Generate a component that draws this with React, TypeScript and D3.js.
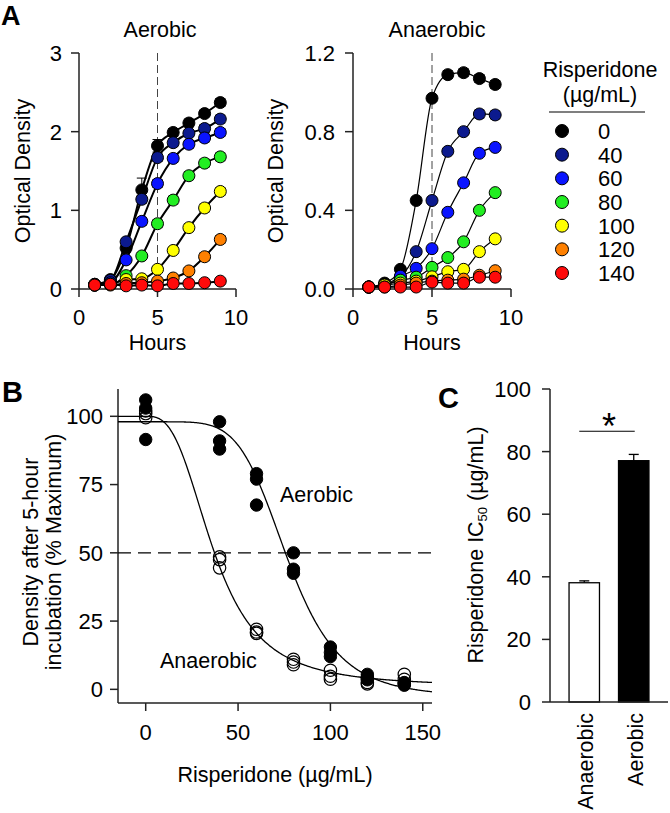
import React from 'react';
import * as d3 from 'd3';

const FONT = "'Liberation Sans', Arial, Helvetica, sans-serif";

// ---------- Panel A data ----------
const hours = [1, 2, 3, 4, 5, 6, 7, 8, 9];
const concentrations = ['0', '40', '60', '80', '100', '120', '140'];
const concColors = ['#000000', '#0c1a8e', '#0a14ff', '#22ee22', '#ffff00', '#ff8000', '#ff0a0a'];

const aerobic0 = [0.06, 0.12, 0.52, 1.26, 1.82, 1.99, 2.11, 2.23, 2.37];
const aerobic40 = [0.06, 0.11, 0.6, 1.14, 1.67, 1.86, 1.98, 2.04, 2.16];
const aerobic60 = [0.05, 0.08, 0.37, 0.86, 1.34, 1.66, 1.84, 1.92, 1.99];
const aerobic80 = [0.05, 0.06, 0.17, 0.42, 0.83, 1.13, 1.44, 1.6, 1.68];
const aerobic100 = [0.05, 0.06, 0.12, 0.13, 0.25, 0.49, 0.78, 1.03, 1.24];
const aerobic120 = [0.05, 0.05, 0.07, 0.08, 0.1, 0.14, 0.23, 0.41, 0.63];
const aerobic140 = [0.05, 0.06, 0.04, 0.05, 0.04, 0.07, 0.07, 0.08, 0.1];

const aerobic0Err = [0.01, 0.02, 0.05, 0.15, 0.08, 0.05, 0.05, 0.04, 0.05];
const aerobic40Err = [0.01, 0.02, 0.04, 0.05, 0.05, 0.05, 0.04, 0.05, 0.05];
const aerobic60Err = [0.01, 0.02, 0.03, 0.05, 0.05, 0.05, 0.05, 0.05, 0.05];
const aerobic80Err = [0.01, 0.01, 0.03, 0.04, 0.05, 0.05, 0.05, 0.05, 0.05];
const aerobic100Err = [0.01, 0.01, 0.02, 0.02, 0.03, 0.04, 0.05, 0.05, 0.05];
const aerobic120Err = [0.01, 0.01, 0.01, 0.02, 0.02, 0.03, 0.04, 0.05, 0.05];
const aerobic140Err = [0.01, 0.01, 0.01, 0.01, 0.01, 0.02, 0.02, 0.02, 0.03];

const anaerobic0 = [0.01, 0.03, 0.1, 0.45, 0.97, 1.09, 1.1, 1.07, 1.04];
const anaerobic40 = [0.01, 0.02, 0.06, 0.19, 0.45, 0.7, 0.8, 0.89, 0.885];
const anaerobic60 = [0.01, 0.02, 0.065, 0.105, 0.205, 0.39, 0.54, 0.69, 0.72];
const anaerobic80 = [0.01, 0.02, 0.045, 0.06, 0.11, 0.16, 0.24, 0.4, 0.49];
const anaerobic100 = [0.01, 0.02, 0.03, 0.04, 0.062, 0.088, 0.1, 0.19, 0.255];
const anaerobic120 = [0.01, 0.01, 0.02, 0.03, 0.04, 0.045, 0.05, 0.07, 0.093];
const anaerobic140 = [0.01, 0.01, 0.01, 0.01, 0.035, 0.03, 0.03, 0.06, 0.06];

const anaerobic0Err = [0.005, 0.005, 0.01, 0.015, 0.015, 0.02, 0.02, 0.02, 0.02];
const anaerobic40Err = [0.005, 0.005, 0.01, 0.01, 0.015, 0.015, 0.015, 0.02, 0.02];
const anaerobic60Err = [0.005, 0.005, 0.01, 0.01, 0.01, 0.015, 0.015, 0.015, 0.015];
const anaerobic80Err = [0.005, 0.005, 0.005, 0.01, 0.01, 0.01, 0.01, 0.015, 0.015];
const anaerobic100Err = [0.005, 0.005, 0.005, 0.005, 0.01, 0.01, 0.01, 0.01, 0.015];
const anaerobic120Err = [0.005, 0.005, 0.005, 0.005, 0.005, 0.005, 0.01, 0.01, 0.015];
const anaerobic140Err = [0.005, 0.005, 0.005, 0.005, 0.005, 0.005, 0.005, 0.01, 0.01];

const aerobicTicks = [0, 1, 2, 3];
const anaerobicTicks = [0, 0.4, 0.8, 1.2];
const hourTicks = [0, 5, 10];

// ---------- Panel B data ----------
const doses = [0, 40, 60, 80, 100, 120, 140];
const aerobicPct = [[106, 103, 91.5], [98, 91, 88], [79, 77, 67.5], [50, 44, 42.5], [15.5, 13.5, 12], [5.5, 4.5, 3.5], [1.5, 2, 2.5]];
const anaerobicPct = [[102, 101, 99.5], [48.5, 47.5, 44.5], [22, 21, 20.5], [11, 10, 9], [7, 4.8, 3.7], [4, 2.5, 2], [5.5, 3.7, 2.2]];
// fitted four-parameter logistic: top, bottom, IC50, Hill slope
const aerobicFit = [98, -3, 77, 5.5];
const anaerobicFit = [100, 1, 37, 2.9];
const doseTicks = [0, 50, 100, 150];
const pctTicks = [0, 25, 50, 75, 100];

// ---------- Panel C data ----------
const conditions = ['Anaerobic', 'Aerobic'];
const ic50Means = [38.1, 77.1];
const ic50Errs = [0.6, 2.0];
const ic50Fills = ['#ffffff', '#000000'];
const ic50Ticks = [0, 20, 40, 60, 80, 100];

const AX = '#222';
const TICK_FS = 22;
const LABEL_FS = 21.5;

function logistic(p: number[], x: number) {
  const [top, bottom, ic50, hill] = p;
  if (x <= 0) return top;
  return bottom + (top - bottom) / (1 + Math.pow(x / ic50, hill));
}

function GrowthPanel(props: any) {
  const { xRange, yMax, yTicks, yFmt, series, errs, title, titleX, yLabelX, labelGap, lineWidth } = props;
  const x = d3.scaleLinear().domain([0, 10]).range(xRange);
  const y = d3.scaleLinear().domain([0, yMax]).range([289, 53]);
  const line = d3.line<number>().x((_, i) => x(hours[i])).y((d) => y(d)).curve(d3.curveMonotoneX);
  const x0 = xRange[0];
  return (
    <g fontFamily={FONT}>
      <text x={titleX} y={37} fontSize={LABEL_FS} textAnchor="middle">{title}</text>
      {/* dashed 5-hour line */}
      <line x1={x(5)} x2={x(5)} y1={y(yMax)} y2={y(0)} stroke="#444" strokeWidth={1} strokeDasharray="8,4" />
      {/* axes */}
      <line x1={x0} x2={x0} y1={y(yMax)} y2={y(0)} stroke={AX} strokeWidth={1.5} />
      <line x1={x0} x2={xRange[1]} y1={y(0)} y2={y(0)} stroke={AX} strokeWidth={1.5} />
      {yTicks.map((t: number) => (
        <g key={'y' + t}>
          <line x1={x0 - 8} x2={x0} y1={y(t)} y2={y(t)} stroke={AX} strokeWidth={1.5} />
          <text x={x0 - 8 - labelGap} y={y(t)} dy="0.36em" fontSize={TICK_FS} textAnchor="end">{yFmt(t)}</text>
        </g>
      ))}
      {hourTicks.map((t) => (
        <g key={'x' + t}>
          <line x1={x(t)} x2={x(t)} y1={y(0)} y2={y(0) + 8} stroke={AX} strokeWidth={1.5} />
          <text x={x(t)} y={y(0) + 36} fontSize={TICK_FS} textAnchor="middle">{t}</text>
        </g>
      ))}
      <text x={(xRange[0] + xRange[1]) / 2} y={350} fontSize={LABEL_FS} textAnchor="middle">Hours</text>
      <text transform={`translate(${yLabelX},171) rotate(-90)`} fontSize={LABEL_FS} textAnchor="middle">Optical Density</text>
      {/* lines */}
      {series.map((s: number[], k: number) => (
        <path key={'l' + k} d={line(s) || ''} fill="none" stroke="#000" strokeWidth={lineWidth} />
      ))}
      {/* error bars + points */}
      {series.map((s: number[], k: number) => (
        <g key={'p' + k}>
          {s.map((v, i) => {
            const e = errs[k][i];
            const cx = x(hours[i]);
            return (
              <g key={i}>
                <line x1={cx} x2={cx} y1={y(v - e)} y2={y(v + e)} stroke="#000" strokeWidth={1} />
                <line x1={cx - 5} x2={cx + 5} y1={y(v + e)} y2={y(v + e)} stroke="#000" strokeWidth={1} />
                <line x1={cx - 5} x2={cx + 5} y1={y(v - e)} y2={y(v - e)} stroke="#000" strokeWidth={1} />
                <circle cx={cx} cy={y(v)} r={6} fill={concColors[k]} stroke="#000" strokeWidth={1} />
              </g>
            );
          })}
        </g>
      ))}
    </g>
  );
}

function Legend() {
  const rowY = d3.scaleLinear().domain([0, concentrations.length - 1]).range([131, 273]);
  return (
    <g fontFamily={FONT}>
      <text x={600} y={77} fontSize={LABEL_FS} textAnchor="middle">Risperidone</text>
      <text x={600} y={102} fontSize={LABEL_FS} textAnchor="middle">(µg/mL)</text>
      <line x1={549} x2={645} y1={112} y2={112} stroke="#000" strokeWidth={1.2} />
      {concentrations.map((c, i) => (
        <g key={c}>
          <circle cx={562} cy={rowY(i)} r={6.5} fill={concColors[i]} stroke="#000" strokeWidth={1} />
          <text x={598} y={rowY(i)} dy="0.36em" fontSize={TICK_FS}>{c}</text>
        </g>
      ))}
    </g>
  );
}

function PanelB() {
  const x = d3.scaleLinear().domain([-15, 155]).range([118, 432]);
  const y = d3.scaleLinear().domain([-5, 110]).range([703, 389]);
  const xs = d3.range(-15, 155.01, 0.5);
  const curve = d3.line<number[]>().x((d) => x(d[0])).y((d) => y(d[1]));
  const aerPts = xs.map((v) => [v, logistic(aerobicFit, v)]);
  const anaPts = xs.map((v) => [v, logistic(anaerobicFit, v)]);
  return (
    <g fontFamily={FONT}>
      <text x={2} y={402} fontSize={29} fontWeight="bold">B</text>
      <line x1={118} x2={118} y1={y(110)} y2={y(-5)} stroke={AX} strokeWidth={1.5} />
      <line x1={118} x2={x(155)} y1={y(-5)} y2={y(-5)} stroke={AX} strokeWidth={1.5} />
      {pctTicks.map((t) => (
        <g key={'y' + t}>
          <line x1={110} x2={118} y1={y(t)} y2={y(t)} stroke={AX} strokeWidth={1.5} />
          <text x={103} y={y(t)} dy="0.36em" fontSize={TICK_FS} textAnchor="end">{t}</text>
        </g>
      ))}
      {doseTicks.map((t) => (
        <g key={'x' + t}>
          <line x1={x(t)} x2={x(t)} y1={y(-5)} y2={y(-5) + 8} stroke={AX} strokeWidth={1.5} />
          <text x={x(t)} y={y(-5) + 37} fontSize={TICK_FS} textAnchor="middle">{t}</text>
        </g>
      ))}
      <text x={275} y={782} fontSize={LABEL_FS} textAnchor="middle">Risperidone (µg/mL)</text>
      <text transform="translate(38,552) rotate(-90)" fontSize={LABEL_FS} textAnchor="middle">Density after 5-hour</text>
      <text transform="translate(61,552) rotate(-90)" fontSize={LABEL_FS} textAnchor="middle">incubation (% Maximum)</text>
      <line x1={118} x2={x(155)} y1={y(50)} y2={y(50)} stroke="#000" strokeWidth={1.3} strokeDasharray="13,7" />
      <path d={curve(aerPts as any) || ''} fill="none" stroke="#000" strokeWidth={1.3} />
      <path d={curve(anaPts as any) || ''} fill="none" stroke="#000" strokeWidth={1.3} />
      {doses.map((d, i) => (
        <g key={'o' + d}>
          {anaerobicPct[i].map((v, j) => (
            <circle key={j} cx={x(d)} cy={y(v)} r={6.2} fill="none" stroke="#000" strokeWidth={1.2} />
          ))}
        </g>
      ))}
      {doses.map((d, i) => (
        <g key={'f' + d}>
          {aerobicPct[i].map((v, j) => (
            <circle key={j} cx={x(d)} cy={y(v)} r={6.2} fill="#000" stroke="#000" strokeWidth={1} />
          ))}
        </g>
      ))}
      <text x={280} y={502} fontSize={LABEL_FS}>Aerobic</text>
      <text x={160} y={668} fontSize={LABEL_FS}>Anaerobic</text>
    </g>
  );
}

function PanelC() {
  const y = d3.scaleLinear().domain([0, 100]).range([702, 389]);
  const xb = d3.scaleBand<string>().domain(conditions).range([550, 668]).padding(0.385);
  const bw = xb.bandwidth();
  const c0 = (xb('Anaerobic') || 0) + bw / 2;
  const c1 = (xb('Aerobic') || 0) + bw / 2;
  const sigY = y(86.5);
  return (
    <g fontFamily={FONT}>
      <text x={438} y={408} fontSize={29} fontWeight="bold">C</text>
      {conditions.map((c, i) => {
        const bx = xb(c) || 0;
        const cx = bx + bw / 2;
        return (
          <g key={c}>
            <line x1={cx} x2={cx} y1={y(ic50Means[i])} y2={y(ic50Means[i] + ic50Errs[i])} stroke="#000" strokeWidth={1.3} />
            <line x1={cx - 5} x2={cx + 5} y1={y(ic50Means[i] + ic50Errs[i])} y2={y(ic50Means[i] + ic50Errs[i])} stroke="#000" strokeWidth={1.3} />
            <rect x={bx} y={y(ic50Means[i])} width={bw} height={y(0) - y(ic50Means[i])} fill={ic50Fills[i]} stroke="#000" strokeWidth={1.3} />
            <text transform={`translate(${cx + 9},713) rotate(-90)`} fontSize={LABEL_FS} textAnchor="end">{c}</text>
          </g>
        );
      })}
      <line x1={550} x2={550} y1={y(100)} y2={y(0)} stroke={AX} strokeWidth={1.5} />
      <line x1={550} x2={668} y1={y(0)} y2={y(0)} stroke={AX} strokeWidth={1.5} />
      {ic50Ticks.map((t) => (
        <g key={t}>
          <line x1={542} x2={550} y1={y(t)} y2={y(t)} stroke={AX} strokeWidth={1.5} />
          <text x={531} y={y(t)} dy="0.36em" fontSize={TICK_FS} textAnchor="end">{t}</text>
        </g>
      ))}
      <line x1={c0 - 5} x2={c1 + 1} y1={sigY} y2={sigY} stroke="#000" strokeWidth={1.2} />
      <text x={(c0 + c1) / 2} y={sigY + 8} fontSize={36} textAnchor="middle">*</text>
      <text transform="translate(483,545) rotate(-90)" fontSize={LABEL_FS} textAnchor="middle">
        Risperidone IC<tspan fontSize={13} dy={4}>50</tspan><tspan dy={-4}> (µg/mL)</tspan>
      </text>
    </g>
  );
}

export default function App() {
  const aerSeries = [aerobic0, aerobic40, aerobic60, aerobic80, aerobic100, aerobic120, aerobic140];
  const aerErrs = [aerobic0Err, aerobic40Err, aerobic60Err, aerobic80Err, aerobic100Err, aerobic120Err, aerobic140Err];
  const anaSeries = [anaerobic0, anaerobic40, anaerobic60, anaerobic80, anaerobic100, anaerobic120, anaerobic140];
  const anaErrs = [anaerobic0Err, anaerobic40Err, anaerobic60Err, anaerobic80Err, anaerobic100Err, anaerobic120Err, anaerobic140Err];
  return (
    <svg width={670} height={813} style={{ position: 'absolute', left: 0, top: 0, background: '#fff' }}>
      <rect x={0} y={0} width={670} height={813} fill="#fff" />
      <text x={1} y={25} fontSize={27} fontWeight="bold" fontFamily={FONT}>A</text>
      <GrowthPanel xRange={[79, 236]} yMax={3} yTicks={aerobicTicks} yFmt={(t: number) => String(t)}
        series={aerSeries} errs={aerErrs} title="Aerobic" titleX={160} yLabelX={30} labelGap={9} lineWidth={2} />
      <GrowthPanel xRange={[353, 511]} yMax={1.2} yTicks={anaerobicTicks} yFmt={(t: number) => t.toFixed(1)}
        series={anaSeries} errs={anaErrs} title="Anaerobic" titleX={437} yLabelX={283} labelGap={10} lineWidth={1.2} />
      <Legend />
      <PanelB />
      <PanelC />
    </svg>
  );
}
